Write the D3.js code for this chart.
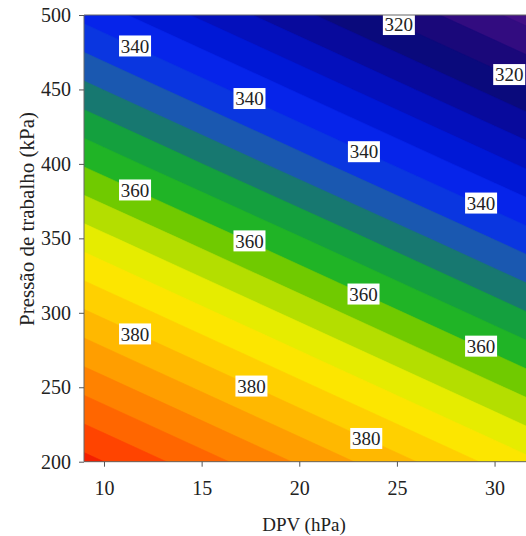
<!DOCTYPE html>
<html><head><meta charset="utf-8">
<script src="https://cdn.jsdelivr.net/npm/d3@7"></script>
<style>
body{margin:0;background:#fff} svg{display:block}
svg text{font-family:"Liberation Serif","DejaVu Serif",serif;}
</style>
</head><body>
<svg id="chart" width="526" height="536"></svg>
<script>
// Grid of values (rows: pressure, cols: DPV)
const dpvGrid = [6, 10, 14, 18, 22, 26, 30, 34];
const pressureGrid = [150, 200, 250, 300, 350, 400, 450, 500, 550];
const gridValues = [
  [415.4, 410.4, 405.4, 400.4, 395.4, 390.4, 385.4, 380.4],
  [405.0, 400.0, 395.0, 390.0, 385.0, 380.0, 375.0, 370.0],
  [394.6, 389.6, 384.6, 379.6, 374.6, 369.6, 364.6, 359.6],
  [384.2, 379.2, 374.2, 369.2, 364.2, 359.2, 354.2, 349.2],
  [373.8, 368.8, 363.8, 358.8, 353.8, 348.8, 343.8, 338.8],
  [363.3, 358.3, 353.3, 348.3, 343.3, 338.3, 333.3, 328.3],
  [352.9, 347.9, 342.9, 337.9, 332.9, 327.9, 322.9, 317.9],
  [342.5, 337.5, 332.5, 327.5, 322.5, 317.5, 312.5, 307.5],
  [332.1, 327.1, 322.1, 317.1, 312.1, 307.1, 302.1, 297.1]
];
const contourLevels = [296, 300, 304, 308, 312, 316, 320, 324, 328, 332, 336, 340, 344, 348,
  352, 356, 360, 364, 368, 372, 376, 380, 384, 388, 392, 396, 400, 404];
const bandColors = ["#5e1c8c", "#561890", "#4c148a", "#420f86", "#320c80", "#1a087a", "#0a0a7c",
  "#080a9c", "#0410bc", "#0018d6", "#0624ea", "#0a36e0", "#1a58b0", "#177870",
  "#14a03e", "#20b426", "#70ca00", "#b4de00", "#e6ec00", "#fce600", "#ffd000",
  "#ffb800", "#ff9e00", "#ff8200", "#ff6600", "#ff4400", "#f42000", "#e81000"];
const xTicks = [10, 15, 20, 25, 30];
const yTicks = [200, 250, 300, 350, 400, 450, 500];
const labelDpv = [11.59, 17.45, 23.31, 29.31, 11.59, 17.45, 23.29, 29.31, 11.59, 17.55, 23.43, 25.1, 30.75];
const labelPressure = [479.2, 443.9, 408.2, 373.7, 382.5, 348.3, 312.6, 277.6, 285.8, 250.8, 215.6, 493.6, 460];
const labelText = ["340", "340", "340", "340", "360", "360", "360", "360", "380", "380", "380", "320", "320"];
const xTitle = "DPV (hPa)";
const yTitle = "Pressão de trabalho (kPa)";

const L = 84, T = 15, R = 526, B = 461.7;
const svg = d3.select("#chart");

const x = d3.scaleLinear().domain([8.976, 31.61]).range([L, R]);
const y = d3.scaleLinear().domain([200, 500]).range([B, T]);

svg.append("defs").append("clipPath").attr("id", "plotclip")
  .append("rect").attr("x", L).attr("y", T).attr("width", R - L).attr("height", B - T);

const n = dpvGrid.length, m = pressureGrid.length;
const contours = d3.contours().size([n, m]).thresholds(contourLevels)(gridValues.flat());
const gx = d3.scaleLinear().domain([0.5, n - 0.5]).range([dpvGrid[0], dpvGrid[n - 1]]);
const gy = d3.scaleLinear().domain([0.5, m - 0.5]).range([pressureGrid[0], pressureGrid[m - 1]]);
const proj = d3.geoTransform({ point(px, py) { this.stream.point(x(gx(px)), y(gy(py))); } });
const path = d3.geoPath(proj);

const plot = svg.append("g").attr("clip-path", "url(#plotclip)");
plot.selectAll("path").data(contours).join("path")
  .attr("d", path)
  .attr("fill", (d, i) => bandColors[i])
  .attr("stroke", (d, i) => bandColors[i])
  .attr("stroke-width", 0.6);

// contour labels
const lab = svg.append("g");
labelText.forEach((t, i) => {
  const cx = x(labelDpv[i]), cy = y(labelPressure[i]);
  lab.append("rect").attr("x", cx - 16).attr("y", cy - 10.5).attr("width", 32).attr("height", 21).attr("fill", "#fff");
  lab.append("text").attr("x", cx).attr("y", cy).attr("dy", "0.35em").attr("text-anchor", "middle")
    .attr("font-size", 19).attr("fill", "#222").text(t);
});

// frame
svg.append("path").attr("d", `M${R},${T}H${L}V${B}H${R}`).attr("fill", "none").attr("stroke", "#666").attr("stroke-width", 1);

const xa = svg.append("g").attr("transform", `translate(0,${B})`)
  .call(d3.axisBottom(x).tickValues(xTicks).tickSize(5).tickSizeOuter(0).tickPadding(14));
const ya = svg.append("g").attr("transform", `translate(${L},0)`)
  .call(d3.axisLeft(y).tickValues(yTicks).tickSize(5).tickSizeOuter(0).tickPadding(8));
[xa, ya].forEach(a => {
  a.select(".domain").remove();
  a.attr("font-family", null);
  a.selectAll("line").attr("stroke", "#555");
  a.selectAll("text").attr("font-size", 20).attr("fill", "#222");
});

svg.append("text").attr("x", 304).attr("y", 531).attr("text-anchor", "middle")
  .attr("font-size", 19).attr("fill", "#222").text(xTitle);
svg.append("text").attr("transform", "translate(34,219) rotate(-90)").attr("text-anchor", "middle")
  .attr("font-size", 21).attr("fill", "#222").text(yTitle);
</script>
</body></html>
